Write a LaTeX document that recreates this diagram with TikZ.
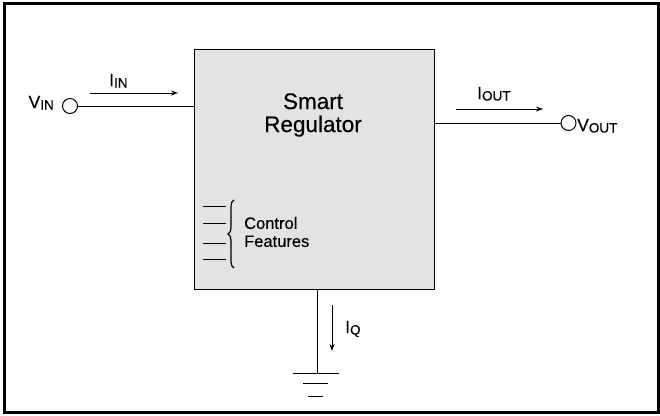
\documentclass[tikz,border=0pt]{standalone}
\usepackage{fontspec}
\setmainfont[FakeBold=0.35]{Liberation Sans}
\usetikzlibrary{decorations.pathreplacing,arrows.meta}
\newcommand{\lbl}[2]{{\fontsize{17.5}{17}\selectfont #1}\raisebox{-1.5pt}{\fontsize{13.5}{14}\selectfont #2}}
\begin{document}
\begin{tikzpicture}[x=1pt,y=-1pt,
  wire/.style={line width=1pt},
  cur/.style={line width=1pt,-{Stealth[length=7pt,width=5pt]}},
  term/.style={circle,draw,line width=1pt,minimum size=15pt,inner sep=0pt},
  txt/.style={inner sep=0pt,font=\fontsize{16}{18}\selectfont}]
\useasboundingbox (0,0) rectangle (660,415);
\draw[line width=3pt] (4,3.5) rectangle (658,412.5);
\node[draw,line width=1pt,fill=gray!22,minimum width=240pt,minimum height=240pt,inner sep=0pt,anchor=north west] (reg) at (194,49) {};
\node[inner sep=0pt,align=center,font=\fontsize{22.5}{23}\selectfont] (title) at (313,115) {Smart\\Regulator};
% input
\node[term] (vin) at (70,106) {};
\node[txt,anchor=base east] (vinl) at (54,108) {\lbl{V}{IN}};
\draw[wire] (vin.east) -- (vin.east -| reg.west);
\coordinate (iina) at (90,93);
\coordinate (iinb) at (178,93);
\draw[cur] (iina) -- (iinb);
\node[txt,anchor=base west] (iinl) at (109,86) {\lbl{I}{IN}};
% output
\node[term] (vout) at (568.5,123) {};
\node[txt,anchor=base west] (voutl) at (577,131) {\lbl{V}{OUT}};
\draw[wire] (reg.east |- vout) -- (vout.west);
\coordinate (iouta) at (456,109);
\coordinate (ioutb) at (543,109);
\draw[cur] (iouta) -- (ioutb);
\node[txt,anchor=base west] (ioutl) at (477,99) {\lbl{I}{OUT}};
% control features
\foreach \y/\n in {206/a,223/b,243/c,259/d}{
  \coordinate (c\n1) at (203,\y);
  \coordinate (c\n2) at (226,\y);
  \draw[line width=0.8pt] (c\n1) -- (c\n2);
}
\coordinate (bra) at (234,268);
\coordinate (brb) at (234,200);
\draw[line width=1.2pt,decorate,decoration={brace,amplitude=6pt}] (bra) -- (brb);
\node[txt,anchor=west,align=left,font=\fontsize{16.5}{18}\selectfont] (ctl) at (244,232) {Control\\Features};
% ground
\coordinate (gnd) at (317,373);
\draw[wire] (reg.south -| gnd) -- (gnd);
\coordinate (g1a) at (293,373); \coordinate (g1b) at (339,373);
\coordinate (g2a) at (303,383); \coordinate (g2b) at (328,383);
\coordinate (g3a) at (308,396); \coordinate (g3b) at (323,396);
\draw[wire] (g1a) -- (g1b);
\draw[wire] (g2a) -- (g2b);
\draw[wire] (g3a) -- (g3b);
\coordinate (iqa) at (332,305);
\coordinate (iqb) at (332,351);
\draw[cur] (iqa) -- (iqb);
\node[txt,anchor=base west] (iql) at (345,333) {\lbl{I}{Q}};
\end{tikzpicture}
\end{document}
